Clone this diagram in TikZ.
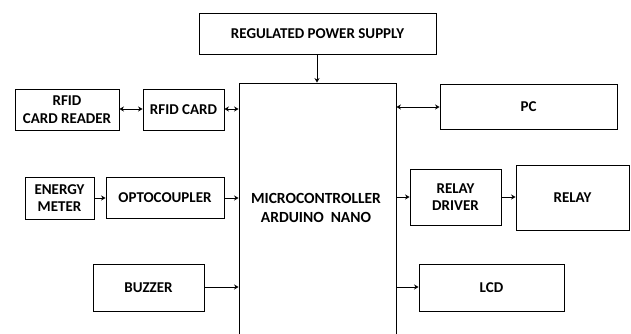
\documentclass[tikz,border=0pt]{standalone}
\usepackage{fontspec}
\setmainfont{Carlito}
\usetikzlibrary{arrows.meta}
\begin{document}
\begin{tikzpicture}[x=1pt,y=-1pt,
  blk/.style={draw, line width=0.9pt, inner sep=0pt, align=center,
    font=\fontsize{15}{17.5}\selectfont\bfseries},
  conn/.style={line width=0.8pt, -{Stealth[length=4.5pt,width=5pt,inset=1.5pt]}},
  bconn/.style={line width=0.8pt, {Stealth[length=4.5pt,width=5pt,inset=1.5pt]}-{Stealth[length=4.5pt,width=5pt,inset=1.5pt]}}]
\useasboundingbox (0,0) rectangle (631,334);
\clip (0,0) rectangle (631,334);
\newcommand{\blkat}[6]{\node[blk, minimum width={#4-#2}, minimum height={#5-#3}] (#1) at ({(#2+#4)/2},{(#3+#5)/2}) {#6};}
\blkat{rps}{199}{13}{436}{54}{REGULATED POWER SUPPLY}
\node[draw, line width=0.9pt, minimum width=157, minimum height=270, inner sep=0pt] (mcu) at (317.5,218) {};
\node[font=\fontsize{15.5}{19}\selectfont\bfseries, align=center] (mcutxt) at (316,207.5) {MICROCONTROLLER\\ARDUINO\ \ NANO};
\blkat{rdr}{15}{89}{119}{130}{RFID\\CARD READER}
\blkat{card}{143}{89}{224}{130}{RFID CARD}
\blkat{pc}{440}{84}{617}{129}{PC}
\blkat{em}{25}{177}{94}{219}{ENERGY\\METER}
\blkat{opto}{106}{177}{224}{218}{OPTOCOUPLER}
\blkat{buz}{93}{264}{204}{311}{BUZZER}
\blkat{rd}{410}{169}{501}{225}{RELAY\\DRIVER}
\blkat{relay}{516}{165}{629}{230}{RELAY}
\blkat{lcd}{419}{264}{564}{311}{LCD}
% connectors
\draw[conn] (rps.south -| 317,0) -- (mcu.north -| 317,0);
\draw[bconn] (rdr.east |- 0,109) -- (card.west |- 0,109);
\draw[bconn] (card.east |- 0,109) -- (mcu.west |- 0,109);
\draw[bconn] (mcu.east |- 0,107) -- (pc.west |- 0,107);
\draw[conn] (em.east |- 0,198) -- (opto.west |- 0,198);
\draw[conn] (opto.east |- 0,198) -- (mcu.west |- 0,198);
\draw[conn] (buz.east |- 0,287) -- (mcu.west |- 0,287);
\draw[conn] (mcu.east |- 0,197) -- (rd.west |- 0,197);
\draw[conn] (rd.east |- 0,197) -- (relay.west |- 0,197);
\draw[conn] (mcu.east |- 0,287) -- (lcd.west |- 0,287);
\end{tikzpicture}
\end{document}
